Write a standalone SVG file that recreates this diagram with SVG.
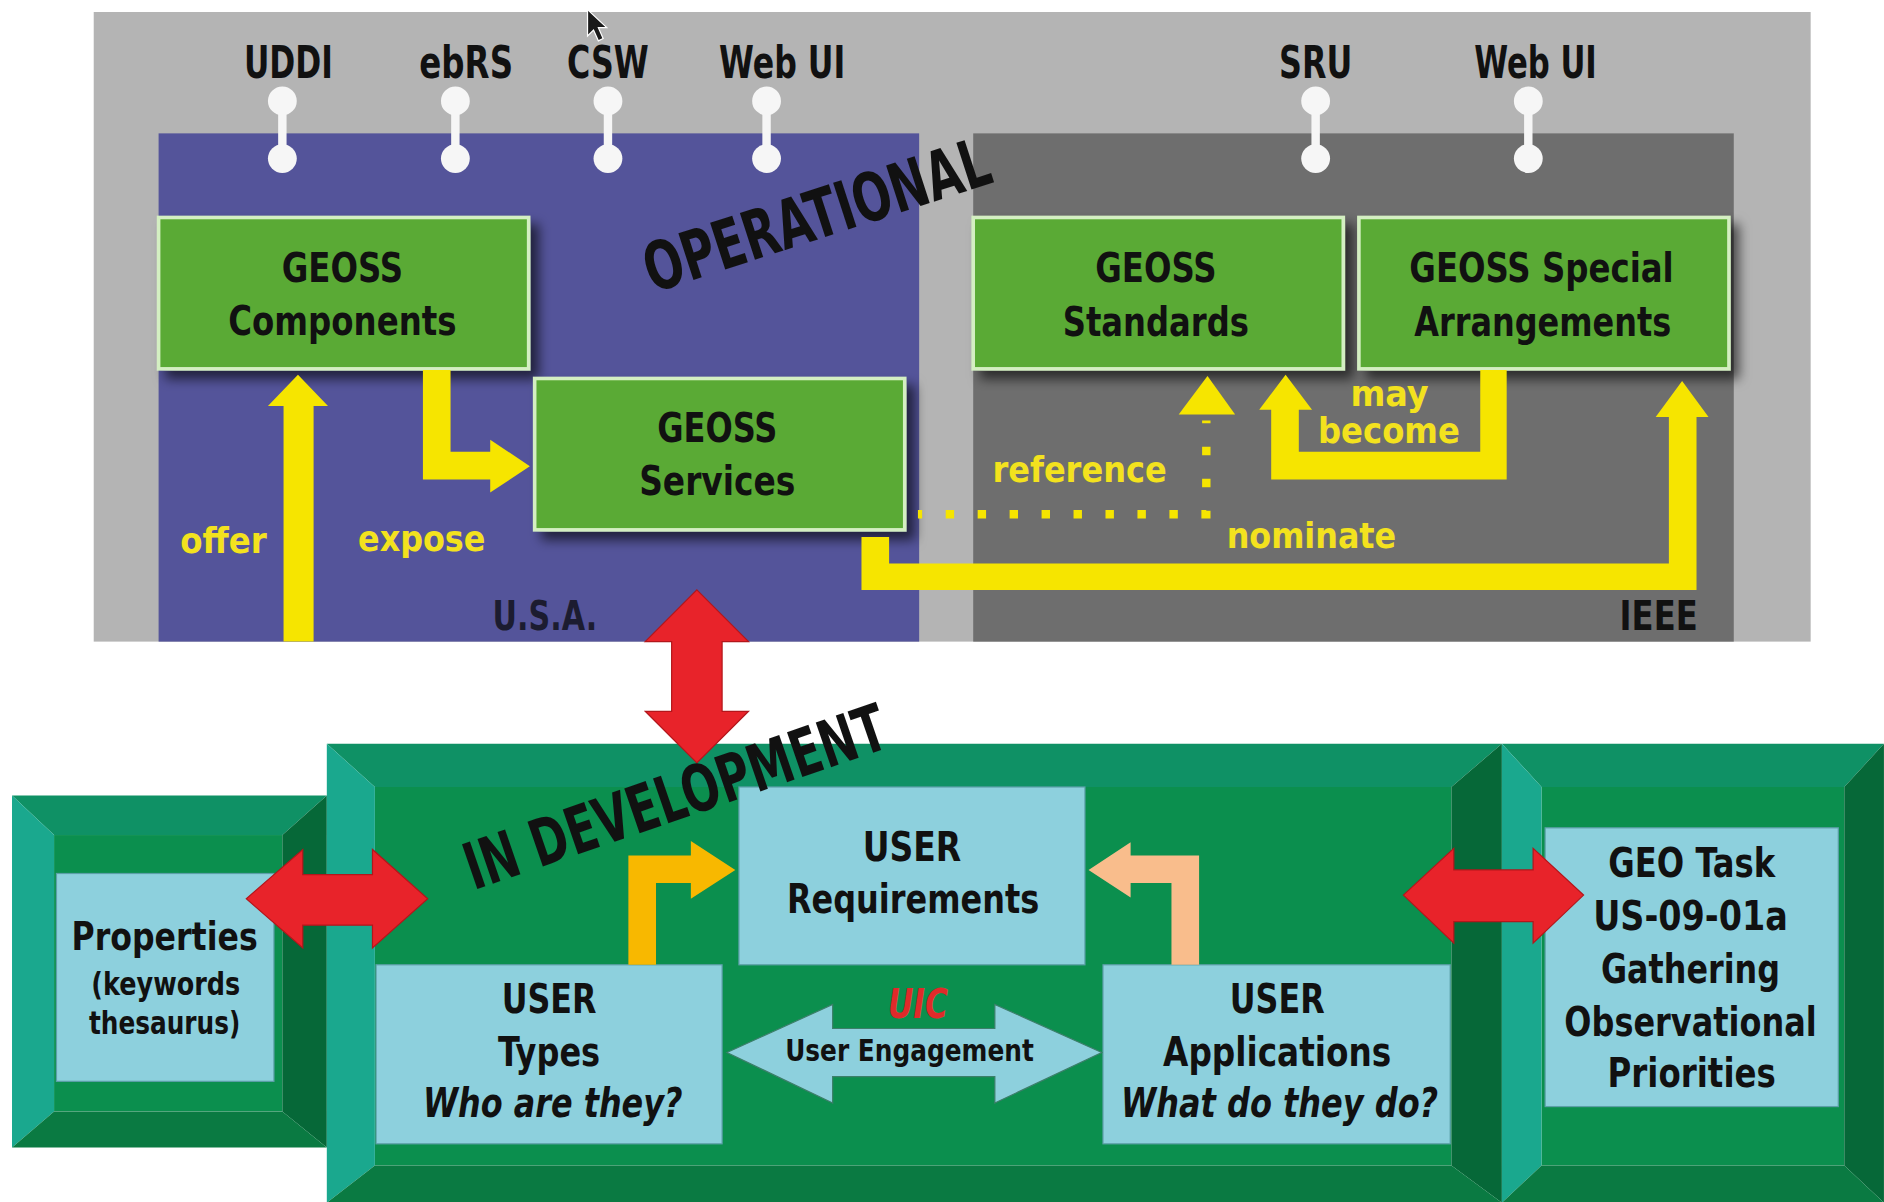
<svg xmlns="http://www.w3.org/2000/svg" width="1884" height="1202" viewBox="0 0 1884 1202">
<defs>
<filter id="sh" x="-10%" y="-10%" width="130%" height="140%"><feDropShadow dx="7" dy="7" stdDeviation="5" flood-color="#000" flood-opacity="0.6"/></filter>
</defs>
<style>
.lb{font-family:"DejaVu Sans Condensed","DejaVu Sans","Liberation Sans",sans-serif;font-weight:bold;fill:#111;}
.c{text-anchor:middle;}
.it{font-style:italic;}
.y{fill:#f3e21e;}
.gb{fill:#5aaa34;stroke:#d4efc2;stroke-width:3;}
.lbx{fill:#8dd0dd;stroke:#5c9fa8;stroke-width:1;}
.yel{fill:#f6e500;}
.red{fill:#e8232a;stroke:#b3161b;stroke-width:1;}
.lol line{stroke:#f6f6f6;stroke-width:7;}
.lol circle{fill:#f6f6f6;}
.fface{fill:#0b8f4e;}
.ftop{fill:#0f9165;}
.fleft{fill:#1aa88e;}
.fright{fill:#066838;}
.fbot{fill:#0a7a42;}
</style>
<g transform="scale(1.2015)">
<rect x="0" y="0" width="1568" height="1001" fill="#ffffff"/>

<g id="operational-panel">
<rect x="78" y="10" width="1429" height="524" fill="#b4b4b4"/>
</g>
<g id="usa-panel">
<rect x="132" y="111" width="633" height="423" fill="#54549a"/>
<text class="lb" x="410" y="524" font-size="34" textLength="87" lengthAdjust="spacingAndGlyphs" fill="#1c1c30" style="fill:#1c1c30">U.S.A.</text>
</g>
<g id="ieee-panel">
<rect x="810" y="111" width="633" height="423" fill="#6e6e6e"/>
<text class="lb" x="1348" y="524" font-size="34" textLength="65" lengthAdjust="spacingAndGlyphs">IEEE</text>
</g>

<g id="cursor">
<polygon points="489,8 489,30 494,25 498,34 502,32 498,23 505,23" fill="#1a1a1a" stroke="#ffffff" stroke-width="1"/>
</g>

<g id="title-operational">
<text class="lb" x="0" y="0" font-size="56" textLength="300" lengthAdjust="spacingAndGlyphs" fill="#1a1a1a" transform="translate(543,244) rotate(-18)">OPERATIONAL</text>
</g>

<g id="interface-labels">
<text class="lb c" x="240" y="65" font-size="37" textLength="74" lengthAdjust="spacingAndGlyphs">UDDI</text>
<text class="lb c" x="388" y="65" font-size="37" textLength="78" lengthAdjust="spacingAndGlyphs">ebRS</text>
<text class="lb c" x="506" y="65" font-size="37" textLength="68" lengthAdjust="spacingAndGlyphs">CSW</text>
<text class="lb c" x="651" y="65" font-size="37" textLength="105" lengthAdjust="spacingAndGlyphs">Web UI</text>
<text class="lb c" x="1095" y="65" font-size="37" textLength="61" lengthAdjust="spacingAndGlyphs">SRU</text>
<text class="lb c" x="1278" y="65" font-size="37" textLength="102" lengthAdjust="spacingAndGlyphs">Web UI</text>
</g>

<g id="geoss-components">
<rect class="gb" x="132" y="181" width="308" height="126" filter="url(#sh)"/>
<text class="lb c" x="285" y="235" font-size="34" textLength="101" lengthAdjust="spacingAndGlyphs">GEOSS</text>
<text class="lb c" x="285" y="279" font-size="34" textLength="190" lengthAdjust="spacingAndGlyphs">Components</text>
</g>
<g id="geoss-services">
<rect class="gb" x="445" y="315" width="308" height="126" filter="url(#sh)"/>
<text class="lb c" x="597" y="368" font-size="34" textLength="100" lengthAdjust="spacingAndGlyphs">GEOSS</text>
<text class="lb c" x="597" y="412" font-size="34" textLength="130" lengthAdjust="spacingAndGlyphs">Services</text>
</g>
<g id="geoss-standards">
<rect class="gb" x="810" y="181" width="308" height="126" filter="url(#sh)"/>
<text class="lb c" x="962" y="235" font-size="34" textLength="101" lengthAdjust="spacingAndGlyphs">GEOSS</text>
<text class="lb c" x="962" y="280" font-size="34" textLength="155" lengthAdjust="spacingAndGlyphs">Standards</text>
</g>
<g id="geoss-special-arrangements">
<rect class="gb" x="1131" y="181" width="308" height="126" filter="url(#sh)"/>
<text class="lb c" x="1283" y="235" font-size="34" textLength="220" lengthAdjust="spacingAndGlyphs">GEOSS Special</text>
<text class="lb c" x="1284" y="280" font-size="34" textLength="214" lengthAdjust="spacingAndGlyphs">Arrangements</text>
</g>

<g id="properties-frame">
<rect class="fface" x="45" y="695" width="190" height="230"/>
<polygon class="ftop" points="10,662 272,662 235,695 45,695"/>
<polygon class="fleft" points="10,662 45,695 45,925 10,955"/>
<polygon class="fright" points="272,662 272,955 235,925 235,695"/>
<polygon class="fbot" points="10,955 45,925 235,925 272,955"/>
</g>
<g id="properties">
<rect class="lbx" x="47" y="727" width="181" height="173"/>
<text class="lb c" x="137" y="791" font-size="32" textLength="155" lengthAdjust="spacingAndGlyphs">Properties</text>
<text class="lb c" x="138" y="828" font-size="27" textLength="124" lengthAdjust="spacingAndGlyphs">(keywords</text>
<text class="lb c" x="137" y="861" font-size="27" textLength="126" lengthAdjust="spacingAndGlyphs">thesaurus)</text>
</g>

<g id="development-frame">
<rect class="fface" x="312" y="655" width="896" height="315"/>
<polygon class="ftop" points="272,619 1250,619 1208,655 312,655"/>
<polygon class="fleft" points="272,619 312,655 312,970 272,1001"/>
<polygon class="fright" points="1250,619 1250,1001 1208,970 1208,655"/>
<polygon class="fbot" points="272,1001 312,970 1208,970 1250,1001"/>
</g>

<g id="geo-task-frame">
<rect class="fface" x="1283" y="655" width="252" height="315"/>
<polygon class="ftop" points="1250,619 1568,619 1535,655 1283,655"/>
<polygon class="fleft" points="1250,619 1283,655 1283,970 1250,1001"/>
<polygon class="fright" points="1568,619 1568,1001 1535,970 1535,655"/>
<polygon class="fbot" points="1250,1001 1283,970 1535,970 1568,1001"/>
</g>
<g id="geo-task">
<rect class="lbx" x="1286" y="689" width="244" height="232"/>
<text class="lb c" x="1408" y="730" font-size="34" textLength="139" lengthAdjust="spacingAndGlyphs">GEO Task</text>
<text class="lb c" x="1407" y="774" font-size="34" textLength="162" lengthAdjust="spacingAndGlyphs">US-09-01a</text>
<text class="lb c" x="1407" y="818" font-size="34" textLength="149" lengthAdjust="spacingAndGlyphs">Gathering</text>
<text class="lb c" x="1407" y="862" font-size="34" textLength="210" lengthAdjust="spacingAndGlyphs">Observational</text>
<text class="lb c" x="1408" y="905" font-size="34" textLength="140" lengthAdjust="spacingAndGlyphs">Priorities</text>
</g>

<g id="user-requirements">
<rect class="lbx" x="615" y="655" width="288" height="148"/>
<text class="lb c" x="759" y="717" font-size="34" textLength="82" lengthAdjust="spacingAndGlyphs">USER</text>
<text class="lb c" x="760" y="760" font-size="34" textLength="210" lengthAdjust="spacingAndGlyphs">Requirements</text>
</g>
<g id="user-types">
<rect class="lbx" x="313" y="803" width="288" height="149"/>
<text class="lb c" x="457" y="843" font-size="34" textLength="79" lengthAdjust="spacingAndGlyphs">USER</text>
<text class="lb c" x="457" y="887" font-size="34" textLength="85" lengthAdjust="spacingAndGlyphs">Types</text>
<text class="lb c it" x="460" y="930" font-size="34" textLength="216" lengthAdjust="spacingAndGlyphs">Who are they?</text>
</g>
<g id="user-applications">
<rect class="lbx" x="918" y="803" width="289" height="149"/>
<text class="lb c" x="1063" y="843" font-size="34" textLength="79" lengthAdjust="spacingAndGlyphs">USER</text>
<text class="lb c" x="1063" y="887" font-size="34" textLength="190" lengthAdjust="spacingAndGlyphs">Applications</text>
<text class="lb c it" x="1065" y="930" font-size="34" textLength="264" lengthAdjust="spacingAndGlyphs">What do they do?</text>
</g>

<g id="connectors">
<g class="lol">
<line x1="235" y1="84" x2="235" y2="132"/><circle cx="235" cy="84" r="12"/><circle cx="235" cy="132" r="12"/>
<line x1="379" y1="84" x2="379" y2="132"/><circle cx="379" cy="84" r="12"/><circle cx="379" cy="132" r="12"/>
<line x1="506" y1="84" x2="506" y2="132"/><circle cx="506" cy="84" r="12"/><circle cx="506" cy="132" r="12"/>
<line x1="638" y1="84" x2="638" y2="132"/><circle cx="638" cy="84" r="12"/><circle cx="638" cy="132" r="12"/>
<line x1="1095" y1="84" x2="1095" y2="132"/><circle cx="1095" cy="84" r="12"/><circle cx="1095" cy="132" r="12"/>
<line x1="1272" y1="84" x2="1272" y2="132"/><circle cx="1272" cy="84" r="12"/><circle cx="1272" cy="132" r="12"/>
</g>
<polygon class="yel" points="236,534 236,338 223,338 248,312 273,338 261,338 261,534"/>
<polygon class="yel" points="352,308 375,308 375,376 408,376 408,366 441,388 408,410 408,399 352,399"/>
<polygon class="yel" points="717,447 740,447 740,469 1389,469 1389,347 1378,347 1400,317 1422,347 1412,347 1412,491 717,491"/>
<polygon class="yel" points="1232,308 1254,308 1254,399 1058,399 1058,341 1048,341 1070,312 1092,341 1081,341 1081,376 1232,376"/>
<path d="M764,428 H1004 V350" fill="none" stroke="#f6e500" stroke-width="7" stroke-dasharray="7 19.6" stroke-dashoffset="3.5"/>
<polygon class="yel" points="981,345 1028,345 1005,313"/>
<polygon class="red" points="580,491 623,534 601,534 601,592 623,592 580,635 537,592 559,592 559,534 537,534"/>
<polygon class="red" points="205,748 252,707 252,728 310,728 310,707 356,748 310,789 310,770 252,770 252,789"/>
<polygon class="red" points="1168,745 1210,706 1210,724 1276,724 1276,706 1318,745 1276,785 1276,767 1210,767 1210,785"/>
<polygon points="523,803 523,712 575,712 575,700 612,724 575,748 575,735 546,735 546,803" fill="#f8b800"/>
<polygon points="998,803 998,712 941,712 941,701 906,724 941,747 941,735 975,735 975,803" fill="#f9bd8c"/>
<polygon points="605,876 693,836 693,856 828,856 828,836 917,876 828,918 828,896 693,896 693,918" fill="#8dd0dd" stroke="#3c7f6a" stroke-width="1"/>
</g>

<g id="connector-labels">
<text class="lb y" x="150" y="460" font-size="30" textLength="72" lengthAdjust="spacingAndGlyphs">offer</text>
<text class="lb y" x="298" y="459" font-size="30" textLength="106" lengthAdjust="spacingAndGlyphs">expose</text>
<text class="lb y" x="826" y="401" font-size="30" textLength="145" lengthAdjust="spacingAndGlyphs">reference</text>
<text class="lb y" x="1021" y="456" font-size="30" textLength="141" lengthAdjust="spacingAndGlyphs">nominate</text>
<text class="lb y" x="1124" y="338" font-size="30" textLength="65" lengthAdjust="spacingAndGlyphs">may</text>
<text class="lb y" x="1097" y="369" font-size="30" textLength="118" lengthAdjust="spacingAndGlyphs">become</text>
<text class="lb c it" x="764" y="847" font-size="34" textLength="50" lengthAdjust="spacingAndGlyphs" style="fill:#e02a2a">UIC</text>
<text class="lb c" x="757" y="883" font-size="25" textLength="207" lengthAdjust="spacingAndGlyphs">User Engagement</text>
</g>

<g id="title-development">
<text class="lb" x="0" y="0" font-size="54" textLength="368" lengthAdjust="spacingAndGlyphs" fill="#111" transform="translate(394,741) rotate(-19)">IN DEVELOPMENT</text>
</g>
</g>
</svg>
